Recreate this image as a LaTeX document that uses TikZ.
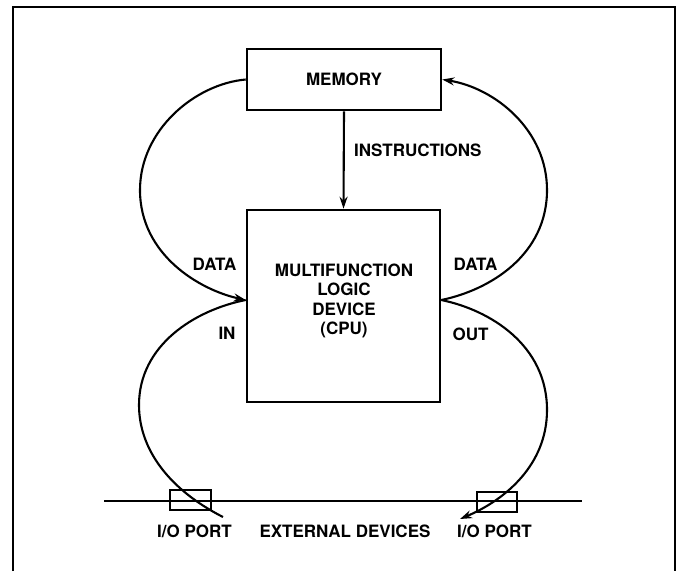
\documentclass[tikz,border=0pt]{standalone}
\usepackage{fontspec}
\setmainfont{TeX Gyre Heros}
\usetikzlibrary{arrows.meta}
\begin{document}
\begin{tikzpicture}[x=1pt,y=-1pt,
  lbl/.style={font=\fontsize{17}{19.3}\selectfont\bfseries, inner sep=0pt, align=center},
  box/.style={draw, line width=2.6pt, inner sep=0pt},
  port/.style={draw, line width=2pt, minimum width=41pt, minimum height=20pt, inner sep=0pt},
  flow/.style={line width=2.1pt},
  tip/.style={-{Stealth[length=12pt,width=8pt]}},
]
\useasboundingbox (0,0) rectangle (682,571);
% frame
\draw[line width=1.5pt] (13,571) -- (13,7) -- (675,7) -- (675,571);

% boxes
\node[box, minimum width=194pt, minimum height=61pt] (mem) at (344,79.5) {};
\node[lbl] (memtxt) at (344,79.5) {MEMORY};
\node[box, minimum width=193pt, minimum height=192pt] (cpu) at (343.5,306) {};
\node[lbl] (cputxt) at (344,301) {MULTIFUNCTION\\LOGIC\\DEVICE\\(CPU)};

% ports and bus line
\coordinate (hl1) at (104,501);
\coordinate (hl2) at (582,501);
\draw[line width=1.5pt] (hl1) -- (hl2);
\node[port] (portl) at (190.5,500) {};
\node[port, minimum width=40pt] (portr) at (497,502) {};

% connection points
\coordinate (cin) at ([yshift=6pt]cpu.west);
\coordinate (cout) at ([yshift=6pt]cpu.east);
\coordinate (pl) at (223,517);
\coordinate (pr) at (460,519);

% instructions
\draw[flow, tip] (mem.south) -- (cpu.north);
\node[lbl, anchor=west] (instr) at (354,150) {INSTRUCTIONS};

% lower left: I/O port -> CPU (IN)
\draw[flow] (pl) .. controls (170,490) and (139,450) .. (139,405)
  .. controls (139,345) and (195,310) .. (cin);
% upper left: memory -> CPU (DATA)
\draw[flow, tip] (mem.west) .. controls (195,84) and (140,130) .. (140,190)
  .. controls (140,255) and (200,290) .. (cin);
% upper right: CPU -> memory (DATA)
\draw[flow, tip] (cout) .. controls (490,290) and (547,255) .. (547,190)
  .. controls (547,130) and (495,88) .. (mem.east);
% lower right: CPU -> I/O port (OUT)
\draw[flow, tip] (cout) .. controls (490,310) and (547,345) .. (547,410)
  .. controls (547,465) and (505,500) .. (pr);

% labels
\node[lbl] (datal) at (214.5,264) {DATA};
\node[lbl] (datar) at (475.5,264) {DATA};
\node[lbl] (in) at (227,333) {IN};
\node[lbl] (out) at (470.5,334) {OUT};
\node[lbl] (iol) at (194.5,531) {I/O PORT};
\node[lbl] (ext) at (345,531) {EXTERNAL DEVICES};
\node[lbl] (ior) at (494.5,531) {I/O PORT};
\end{tikzpicture}
\end{document}
